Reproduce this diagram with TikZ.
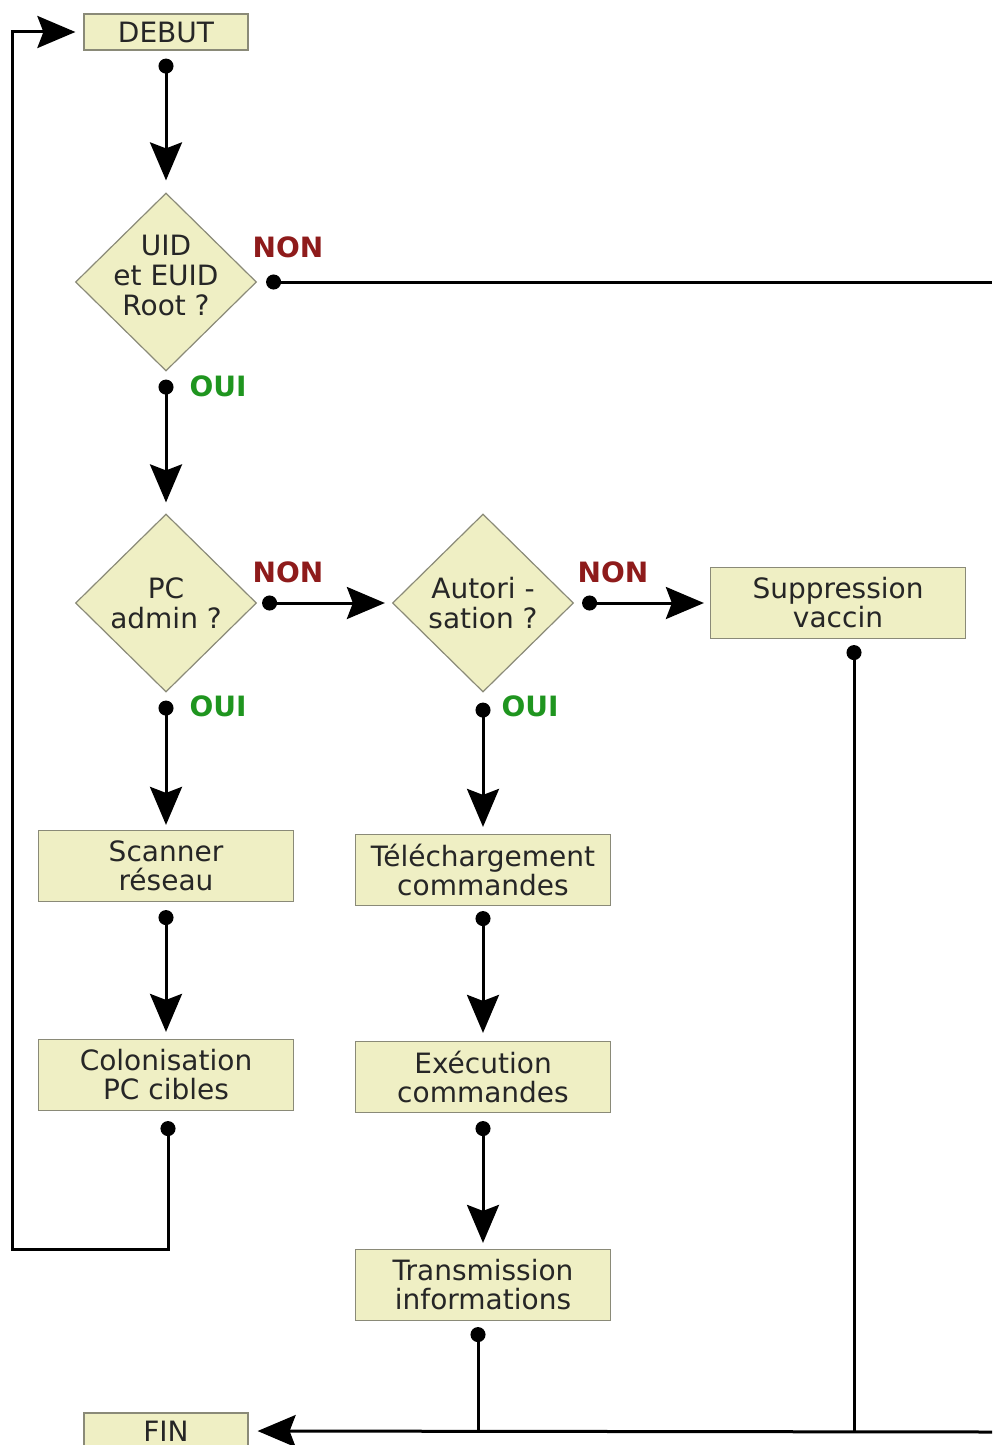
\documentclass[tikz,border=0pt]{standalone}
\usepackage{fontspec}
\setmainfont{DejaVu Sans}
\usetikzlibrary{arrows.meta,shapes.geometric}
\definecolor{boxfill}{HTML}{EFEFC4}
\definecolor{boxedge}{HTML}{8A8A78}
\definecolor{nonred}{HTML}{8E1B1B}
\definecolor{ouigreen}{HTML}{1F951F}
\tikzset{
  fcbox/.style={draw=boxedge, fill=boxfill, line width=0.6pt, align=center, inner sep=2pt,
                minimum width=127.5pt, minimum height=35.5pt, text=black!85,
                font=\fontsize{14}{14.5}\selectfont},
  fcend/.style={fcbox, minimum width=82pt, minimum height=18pt},
  fcdec/.style={diamond, draw=boxedge, fill=boxfill, line width=0.6pt, align=center, inner sep=0pt,
                minimum width=90.5pt, minimum height=89pt, text=black!85,
                font=\fontsize{14}{15}\selectfont},
  fcdectxt/.style={align=center, inner sep=0pt, text=black!85, font=\fontsize{14}{15}\selectfont},
  fcar/.style={{Circle[length=7.5pt]}-{Stealth[length=19pt,width=16pt,inset=3pt]}, line width=1.5pt},
  fcln/.style={{Circle[length=7.5pt]}-, line width=1.5pt},
  fcloop/.style={{Circle[length=7.5pt]}-{Stealth[length=19pt,width=16pt,inset=3pt]}, line width=1.5pt},
  fcback/.style={-{Stealth[length=19pt,width=16pt,inset=3pt]}, line width=1.5pt},
  fcnon/.style={font=\fontsize{14}{14}\selectfont\bfseries, text=nonred, inner sep=1pt},
  fcoui/.style={font=\fontsize{14}{14}\selectfont\bfseries, text=ouigreen, inner sep=1pt},
}
\begin{document}
\begin{tikzpicture}[x=0.5pt,y=-0.5pt]
  \useasboundingbox (0,0) rectangle (992,1445);

  \node[fcend] (debut) at (166,32) {DEBUT};
  \node[fcdec, label={[fcdectxt, yshift=3.5pt]center:UID\\et EUID\\Root ?}] (uid) at (166,282) {};
  \node[fcdec] (admin) at (166,603) {PC\\admin ?};
  \node[fcdec] (autor) at (483,603) {Autori -\\sation ?};
  \node[fcbox] (suppr) at (838,603) {Suppression\\vaccin};

  \node[fcbox] (scan) at (166,866) {Scanner\\réseau};
  \node[fcbox] (colon) at (166,1075) {Colonisation\\PC cibles};
  \node[fcbox] (telech) at (483,870) {Téléchargement\\commandes};
  \node[fcbox] (exec) at (483,1077) {Exécution\\commandes};
  \node[fcbox] (trans) at (483,1285) {Transmission\\informations};
  \node[fcend] (fin) at (166,1431) {FIN};

  \node[fcnon] (non1) at (288,247) {NON};
  \node[fcoui] (oui1) at (218,386) {OUI};
  \node[fcnon] (non2) at (288,572) {NON};
  \node[fcoui] (oui2) at (218,706) {OUI};
  \node[fcnon] (non3) at (613,572) {NON};
  \node[fcoui] (oui3) at (530,706) {OUI};

  \coordinate (edgetop) at (992,282);
  \coordinate (edgebot) at (992,1432);
  \coordinate (jsuppr) at (854,1432);
  \coordinate (jtrans) at (478,1432);
  \coordinate (loopcorner) at (12,1249);

  \draw[fcar, shorten <=4pt, shorten >=6pt] (debut.south) -- (uid.north);
  \draw[fcar, shorten <=4pt, shorten >=5.5pt] (uid.south) -- (admin.north);
  \draw[fcar, shorten <=4pt, shorten >=2.5pt] (admin.south) -- (scan.north);
  \draw[fcar, shorten <=4pt, shorten >=3.5pt] (scan.south) -- (colon.north);
  \draw[fcar, shorten <=2.5pt, shorten >=3.5pt] (admin.east) -- (autor.west);
  \draw[fcar, shorten <=4pt, shorten >=3pt] (autor.east) -- (suppr.west);
  \draw[fcar, shorten <=5pt, shorten >=3.5pt] (autor.south) -- (telech.north);
  \draw[fcar, shorten <=2.5pt, shorten >=4pt] (telech.south) -- (exec.north);
  \draw[fcar, shorten <=4pt, shorten >=3pt] (exec.south) -- (trans.north);

  \draw[fcln, shorten <=4.5pt] (uid.east) -- (edgetop);
  \draw[fcln, shorten <=3pt] ([xshift=8pt]suppr.south) -- (jsuppr);
  \draw[fcln, shorten <=3pt] ([xshift=-2.5pt]trans.south) -- (jtrans);
  \draw[fcback, shorten >=4.5pt] (edgebot) -- (fin.east);

  % retour vers DEBUT
  \draw[fcloop, shorten <=5pt, shorten >=4pt]
    ([xshift=1pt]colon.south) |- (loopcorner) |- (debut.west);
\end{tikzpicture}
\end{document}
